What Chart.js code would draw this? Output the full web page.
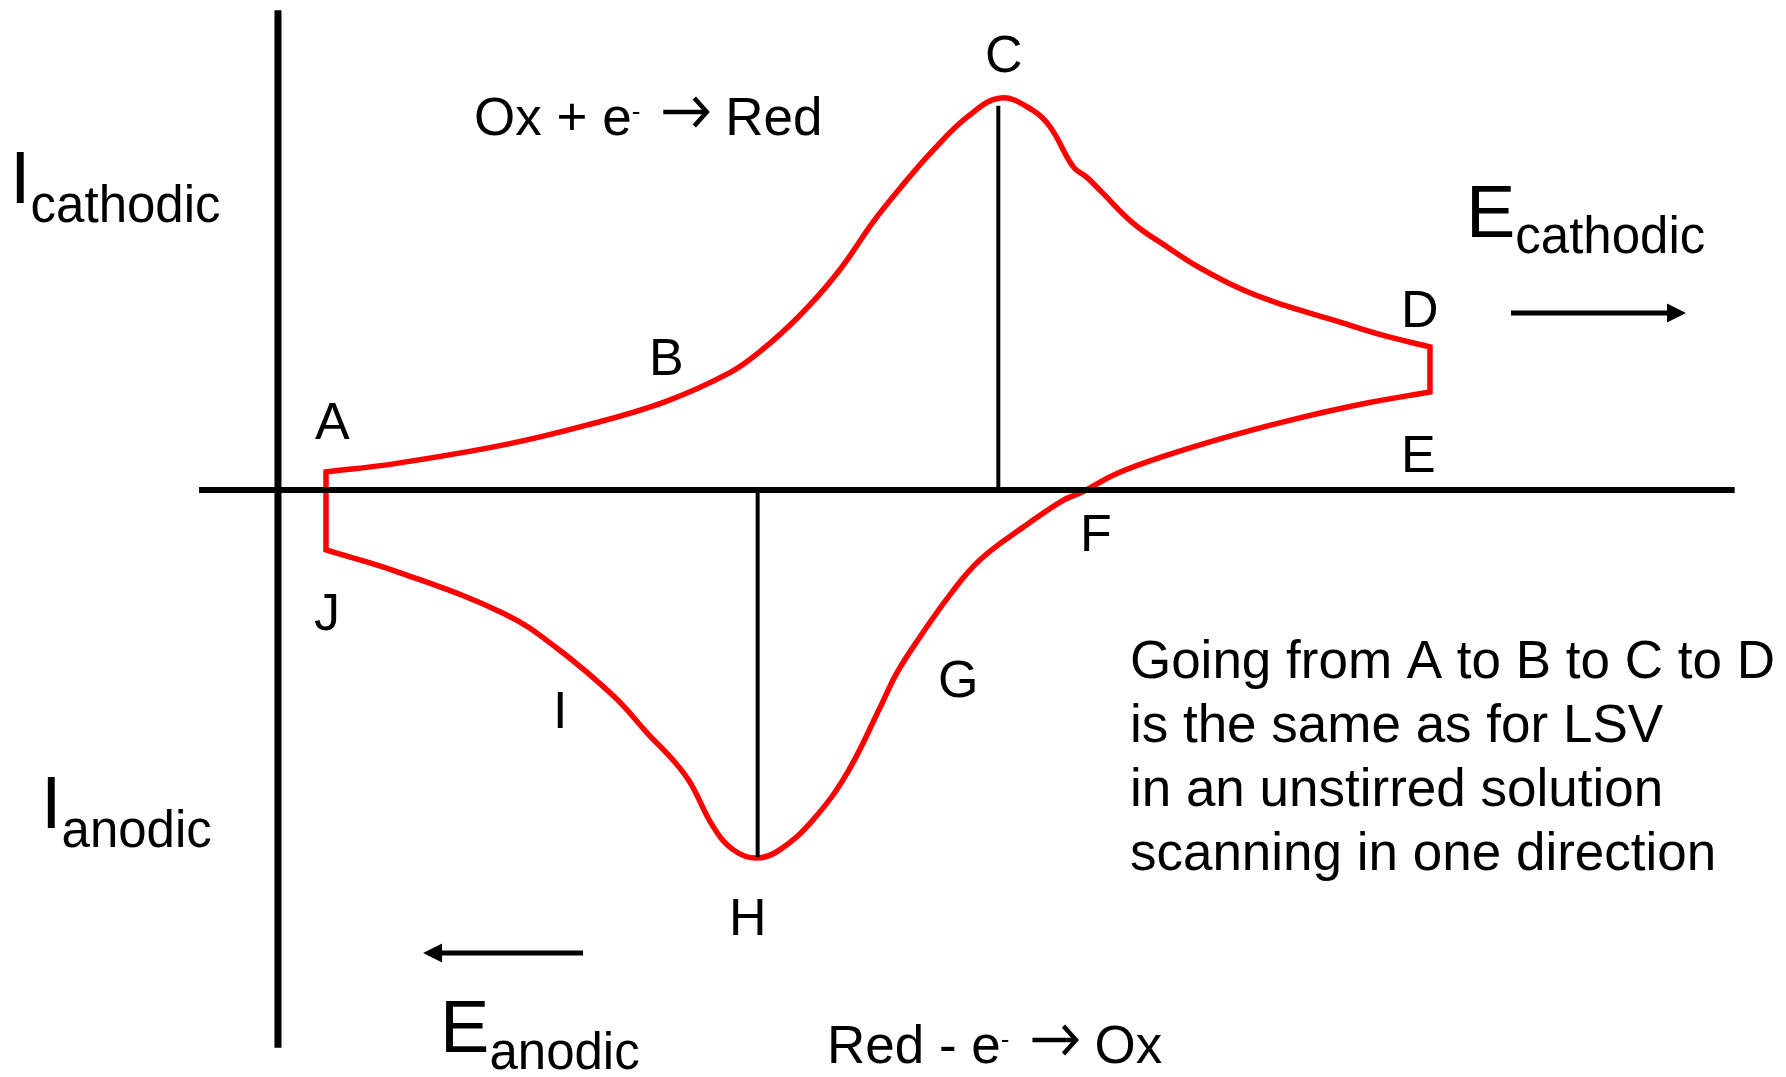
<!DOCTYPE html>
<html>
<head>
<meta charset="utf-8">
<script src="https://cdn.jsdelivr.net/npm/chart.js@4.4.1/dist/chart.umd.min.js"></script>
<style>
  html, body { margin: 0; padding: 0; background: #ffffff; }
  #wrap { width: 1786px; height: 1077px; position: relative; }
</style>
</head>
<body>
<div id="wrap"><canvas id="cv"></canvas></div>
<script>
// ---- Data (arbitrary units: potential A = 0, D = 1; current, peak C = 1) ----
// Forward (cathodic) sweep A -> B -> C -> D
const potentialForward = [0, 0.064, 0.161, 0.237, 0.307, 0.365, 0.393, 0.428, 0.463, 0.497, 0.520, 0.550, 0.581, 0.611, 0.640, 0.656, 0.677, 0.689, 0.701, 0.731, 0.762, 0.792, 0.831, 0.867, 0.912, 0.957, 1.000];
const currentForward   = [0.046, 0.068, 0.115, 0.166, 0.225, 0.298, 0.353, 0.442, 0.553, 0.689, 0.770, 0.867, 0.952, 1.000, 0.969, 0.926, 0.824, 0.798, 0.765, 0.681, 0.620, 0.566, 0.510, 0.472, 0.434, 0.395, 0.365];
// Reverse (anodic) sweep E -> F -> G -> H -> I -> J
const potentialReverse = [1.000, 0.943, 0.882, 0.822, 0.762, 0.717, 0.683, 0.668, 0.633, 0.592, 0.565, 0.538, 0.517, 0.502, 0.472, 0.441, 0.411, 0.390, 0.369, 0.351, 0.330, 0.315, 0.291, 0.261, 0.209, 0.161, 0.064, 0];
const currentReverse   = [0.250, 0.222, 0.184, 0.140, 0.089, 0.043, -0.008, -0.026, -0.092, -0.179, -0.268, -0.375, -0.467, -0.554, -0.722, -0.842, -0.918, -0.939, -0.918, -0.860, -0.747, -0.691, -0.620, -0.527, -0.403, -0.315, -0.208, -0.153];
// Peak markers (C cathodic peak, H anodic peak)
const peakPotential = [0.609, 0.391];
const peakCurrent   = [0.980, -0.936];
// Axis extents
const axisPotentialRange = [-0.115, 1.276];
const axisCurrentRange   = [-1.423, 1.224];
const axisPotentialAtOrigin = -0.0435;

// ---- Build datasets ----
const FONT = '"Liberation Sans", Arial, Helvetica, sans-serif';
const fwd = potentialForward.map((e, k) => ({ x: e, y: currentForward[k] }));
const rev = potentialReverse.map((e, k) => ({ x: e, y: currentReverse[k] }));
const A = fwd[0], D = fwd[fwd.length - 1], E = rev[0], J = rev[rev.length - 1];
const M = { x: (A.x + J.x) / 2, y: (A.y + J.y) / 2 };
// duplicate corner points so the spline keeps the corners sharp
const loop = [ {...M}, {...A}, ...fwd.map(p => ({...p})), {...D}, {...E}, ...rev.map(p => ({...p})), {...J}, {...M} ];

const blackLine = (pts, w) => ({
  data: pts, borderColor: '#000000', borderWidth: w, pointRadius: 0,
  tension: 0, fill: false, borderCapStyle: 'butt'
});

const datasets = [
  blackLine([{ x: axisPotentialRange[0], y: 0 }, { x: axisPotentialRange[1], y: 0 }], 6),
  blackLine([{ x: axisPotentialAtOrigin, y: axisCurrentRange[1] }, { x: axisPotentialAtOrigin, y: axisCurrentRange[0] }], 7),
  blackLine([{ x: peakPotential[0], y: 0 }, { x: peakPotential[0], y: peakCurrent[0] }], 4),
  blackLine([{ x: peakPotential[1], y: 0 }, { x: peakPotential[1], y: peakCurrent[1] }], 4),
  {
    data: loop, borderColor: '#ff0000', borderWidth: 5.5, pointRadius: 0,
    tension: 0.4, fill: false, borderJoinStyle: 'miter', borderCapStyle: 'butt'
  }
];

// ---- Annotation plugin: text labels and direction arrows ----
const annotPlugin = {
  id: 'annot',
  afterDatasetsDraw(chart, args, opts) {
    const { ctx } = chart;
    const sx = chart.scales.x, sy = chart.scales.y;
    ctx.save();
    ctx.fillStyle = '#000';
    ctx.strokeStyle = '#000';
    ctx.textBaseline = 'alphabetic';
    ctx.textAlign = 'left';
    for (const lab of opts.labels) {
      const lines = lab.lines || [lab.runs];
      lines.forEach((runs, li) => {
        let px = sx.getPixelForValue(lab.e);
        const py = sy.getPixelForValue(lab.i) + li * (lab.lineHeight || 0);
        for (const r of runs) {
          if (r.gap) { px += r.gap; continue; }
          if (r.arrow) {
            const ay = py - r.lift, w = r.arrow, h = r.head;
            ctx.lineWidth = 4.5;
            ctx.lineJoin = 'miter';
            ctx.beginPath();
            ctx.moveTo(px, ay);
            ctx.lineTo(px + w - 2, ay);
            ctx.stroke();
            ctx.beginPath();
            ctx.moveTo(px + w - h, ay - h);
            ctx.lineTo(px + w - 1.5, ay);
            ctx.lineTo(px + w - h, ay + h);
            ctx.stroke();
            px += w;
            continue;
          }
          ctx.font = `${r.size}px ${FONT}`;
          ctx.fillText(r.t, px, py + (r.dy || 0));
          px += ctx.measureText(r.t).width;
        }
      });
    }
    for (const a of opts.arrows) {
      const x0 = sx.getPixelForValue(a.from), x1 = sx.getPixelForValue(a.to);
      const y0 = sy.getPixelForValue(a.i);
      const dir = Math.sign(x1 - x0);
      const headLen = 19, headHalf = 9.5;
      ctx.lineWidth = 5;
      ctx.beginPath();
      ctx.moveTo(x0, y0);
      ctx.lineTo(x1 - dir * (headLen - 2), y0);
      ctx.stroke();
      ctx.beginPath();
      ctx.moveTo(x1, y0);
      ctx.lineTo(x1 - dir * headLen, y0 - headHalf);
      ctx.lineTo(x1 - dir * headLen, y0 + headHalf);
      ctx.closePath();
      ctx.fill();
    }
    ctx.restore();
  }
};

const L = (t, size) => [{ t, size: size || 52 }];
const reaction = (left, right) => [
  { t: left + ' - e'.slice(0, 0) , size: 53 }
];
const labels = [
  { e: -0.0100, i: 0.1301, runs: L('A') },
  { e: 0.2926, i: 0.2934, runs: L('B') },
  { e: 0.5969, i: 1.0663, runs: L('C') },
  { e: 0.9737, i: 0.4158, runs: L('D') },
  { e: 0.9737, i: 0.0459, runs: L('E') },
  { e: 0.6830, i: -0.1556, runs: L('F') },
  { e: 0.5543, i: -0.5281, runs: L('G') },
  { e: 0.3650, i: -1.1352, runs: L('H') },
  { e: 0.2056, i: -0.6071, runs: L('I') },
  { e: -0.0109, i: -0.3571, runs: L('J') },
  { e: 0.1341, i: 0.9056, runs: [ { t: 'Ox + e', size: 53 }, { t: '-', size: 26, dy: -15 }, { gap: 23 }, { arrow: 45, head: 14, lift: 23 }, { gap: 17 }, { t: 'Red', size: 53 } ] },
  { e: 0.4538, i: -1.4617, runs: [ { t: 'Red - e', size: 53 }, { t: '-', size: 26, dy: -15 }, { gap: 23 }, { arrow: 45, head: 14, lift: 23 }, { gap: 17 }, { t: 'Ox', size: 53 } ] },
  { e: -0.2862, i: 0.7321, runs: [ { t: 'I', size: 74 }, { t: 'cathodic', size: 51, dy: 19 } ] },
  { e: -0.2582, i: -0.8622, runs: [ { t: 'I', size: 74 }, { t: 'anodic', size: 51, dy: 19 } ] },
  { e: 1.0326, i: 0.6454, runs: [ { t: 'E', size: 74 }, { t: 'cathodic', size: 51, dy: 16 } ] },
  { e: 0.1033, i: -1.4337, runs: [ { t: 'E', size: 74 }, { t: 'anodic', size: 51, dy: 17 } ] },
  { e: 0.7282, i: -0.4796, lineHeight: 64, lines: [
      L('Going from A to B to C to D', 53),
      L('is the same as for LSV', 53),
      L('in an unstirred solution', 53),
      L('scanning in one direction', 53)
  ] }
];
const arrows = [
  { from: 1.0734, to: 1.2319, i: 0.4515 },
  { from: 0.2328, to: 0.0879, i: -1.1811 }
];

new Chart(document.getElementById('cv'), {
  type: 'line',
  data: { datasets },
  options: {
    responsive: true,
    maintainAspectRatio: false,
    devicePixelRatio: 1,
    animation: false,
    events: [],
    layout: { padding: 0 },
    scales: {
      x: { type: 'linear', display: false, min: -0.2953, max: 1.3225 },
      y: { type: 'linear', display: false, min: -1.4974, max: 1.25 }
    },
    plugins: {
      legend: { display: false },
      tooltip: { enabled: false },
      annot: { labels, arrows }
    }
  },
  plugins: [annotPlugin]
});
</script>
</body>
</html>
